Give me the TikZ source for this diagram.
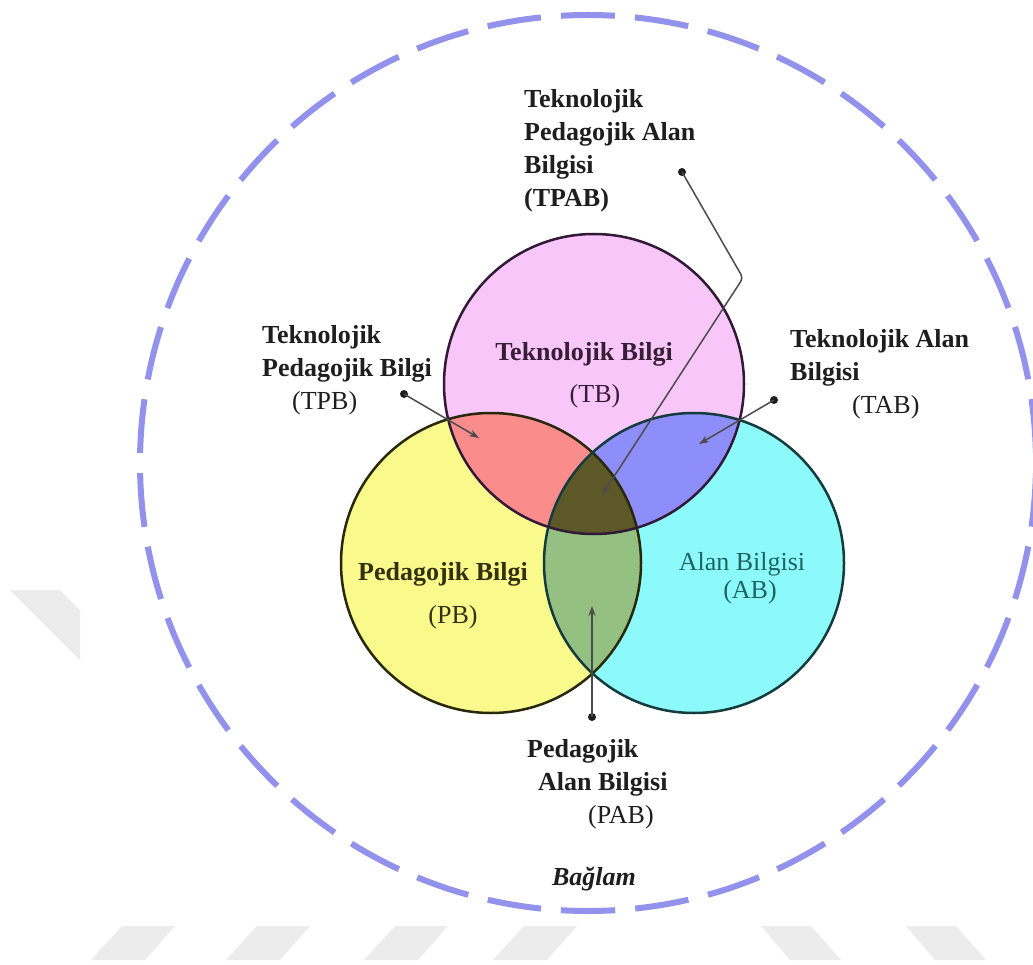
\documentclass[tikz,border=0pt]{standalone}
\usepackage{fontspec}
\setmainfont{Liberation Serif}
\usetikzlibrary{arrows.meta}
\definecolor{ring}{RGB}{146,146,236}
\definecolor{tbpink}{RGB}{249,198,250}
\definecolor{pbyellow}{RGB}{250,250,140}
\definecolor{abcyan}{RGB}{140,250,250}
\definecolor{tpbred}{RGB}{250,140,140}
\definecolor{tabblue}{RGB}{142,142,250}
\definecolor{pabgreen}{RGB}{148,192,130}
\definecolor{tpabdark}{RGB}{92,88,40}
\definecolor{tbedge}{RGB}{50,25,55}
\definecolor{pbedge}{RGB}{40,40,10}
\definecolor{abedge}{RGB}{20,60,60}
\definecolor{wm}{RGB}{236,236,236}
\definecolor{txt}{RGB}{30,30,30}
\definecolor{tbtxt}{RGB}{55,30,55}
\definecolor{abtxt}{RGB}{30,100,100}
\definecolor{pbtxt}{RGB}{50,50,15}
\begin{document}
\begin{tikzpicture}[x=1pt,y=-1pt,
  lbl/.style={inner sep=0pt, text=txt, font=\fontsize{26}{33}\selectfont\bfseries, align=left},
  inlbl/.style={inner sep=0pt, font=\fontsize{26}{33}\selectfont},
  ptr/.style={draw=txt!80, line width=1.5pt, -{Stealth[length=10pt,width=7pt]}},
  dotmark/.style={circle, fill=txt, inner sep=0pt, minimum size=8pt},
  venn/.style={line width=2.5pt}]
\useasboundingbox (0,0) rectangle (1033,965);
\fill[white] (0,0) rectangle (1033,965);
% watermark shapes
\foreach \t in {122,257,395,524}
  \fill[wm] (\t,926) -- (\t+53,926) -- (\t+23,960) -- (\t-31,960) -- cycle;
\foreach \t in {761,906}
  \fill[wm] (\t,926) -- (\t+50,926) -- (\t+80,960) -- (\t+29,960) -- cycle;
\fill[wm] (10,590) -- (60,590) -- (80,610) -- (80,660) -- cycle;
% context ring
\coordinate (O) at (588,463);
\draw[ring, line width=6pt, dash pattern=on 54pt off 20.08pt, dash phase=27pt]
  (O) ++(0,448) arc[start angle=90, end angle=450, radius=448];
% venn circles
\coordinate (T) at (594,384);
\coordinate (P) at (491,563);
\coordinate (A) at (694,563);
\fill[tbpink] (T) circle[radius=150];
\fill[pbyellow] (P) circle[radius=150];
\fill[abcyan] (A) circle[radius=150];
\begin{scope}
  \clip (T) circle[radius=150];
  \fill[tpbred] (P) circle[radius=150];
  \fill[tabblue] (A) circle[radius=150];
\end{scope}
\begin{scope}
  \clip (P) circle[radius=150];
  \fill[pabgreen] (A) circle[radius=150];
\end{scope}
\begin{scope}
  \clip (T) circle[radius=150];
  \clip (P) circle[radius=150];
  \fill[tpabdark] (A) circle[radius=150];
\end{scope}
\draw[venn, draw=pbedge] (P) circle[radius=150];
\draw[venn, draw=abedge] (A) circle[radius=150];
\draw[venn, draw=tbedge] (T) circle[radius=150];
% inner labels
\node[inlbl, font=\fontsize{26}{33}\selectfont\bfseries, text=tbtxt, anchor=base] (tbname) at (584,360) {Teknolojik Bilgi};
\node[inlbl, text=tbtxt, anchor=base] (tbabbr) at (595,402) {(TB)};
\node[inlbl, font=\fontsize{26}{33}\selectfont\bfseries, text=pbtxt, anchor=base] (pbname) at (443,580) {Pedagojik Bilgi};
\node[inlbl, text=pbtxt, anchor=base] (pbabbr) at (453,623) {(PB)};
\node[inlbl, text=abtxt, anchor=base] (abname) at (742,570) {Alan Bilgisi};
\node[inlbl, text=abtxt, anchor=base] (ababbr) at (750,598) {(AB)};
% outer labels
\node[lbl, anchor=north west] (tpablbl) at (524,89.5) {Teknolojik\\Pedagojik Alan\\Bilgisi\\(TPAB)};
\node[lbl, anchor=north west] (tpblbl) at (262,325.5) {Teknolojik\\Pedagojik Bilgi\\\hspace*{30pt}{\mdseries (TPB)}};
\node[lbl, anchor=north west] (tablbl) at (790,329.5) {Teknolojik Alan\\Bilgisi\\\hspace*{62pt}{\mdseries (TAB)}};
\node[lbl, anchor=north west] (pablbl) at (527,739.5) {Pedagojik\\\hspace*{11pt}Alan Bilgisi\\\hspace*{61pt}{\mdseries (PAB)}};
\node[inlbl, font=\fontsize{26}{33}\selectfont\bfseries\itshape, text=txt, anchor=base] (context) at (594,885) {Bağlam};
% connectors
\node[dotmark] (tpbd) at (404,394) {};
\coordinate (tpbt) at (479,438);
\draw[ptr] (tpbd.center) -- (tpbt);
\node[dotmark] (tpabd) at (682,172) {};
\coordinate (tpabk) at (743,278);
\coordinate (tpabt) at (602,495);
\draw[ptr, rounded corners=4pt] (tpabd.center) -- (tpabk) -- (tpabt);
\node[dotmark] (tabd) at (774,400) {};
\coordinate (tabt) at (699,444);
\draw[ptr] (tabd.center) -- (tabt);
\node[dotmark] (pabd) at (592,717) {};
\coordinate (pabt) at (592,606);
\draw[ptr] (pabd.center) -- (pabt);
\end{tikzpicture}
\end{document}
